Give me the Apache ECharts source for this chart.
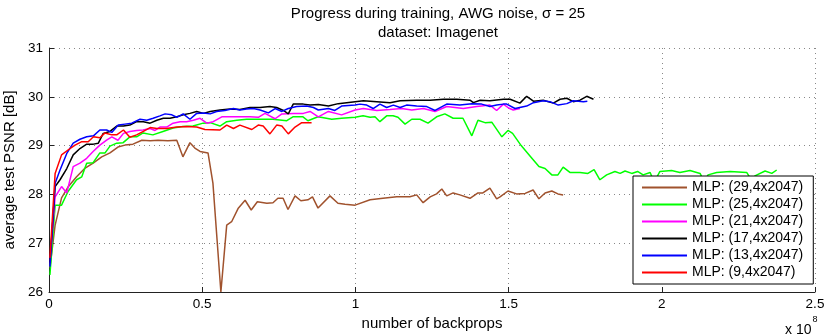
<!DOCTYPE html>
<html>
<head>
<meta charset="utf-8">
<script src="https://cdn.jsdelivr.net/npm/echarts@6/dist/echarts.min.js"></script>
<style>html,body{margin:0;padding:0;background:#fff;}#c{width:830px;height:335px;}</style>
</head>
<body>
<div id="c"></div>
<script>
// x in units of 1e8 backprops, y = average test PSNR [dB]
const seriesNames = ['MLP: (29,4x2047)','MLP: (25,4x2047)','MLP: (21,4x2047)','MLP: (17,4x2047)','MLP: (13,4x2047)','MLP: (9,4x2047)'];
const seriesColors = ['#A0522D','#00FF00','#FF00FF','#000000','#0000FF','#FF0000'];
const xTicks = [0, 0.5, 1, 1.5, 2, 2.5];
const yTicks = [26, 27, 28, 29, 30, 31];

const mlp29 = [[0.003,26.5],[0.020,27.37],[0.041,27.93],[0.062,28.15],[0.090,28.36],[0.118,28.54],[0.144,28.64],[0.172,28.77],[0.199,28.85],[0.225,28.97],[0.248,29.01],[0.274,29.03],[0.303,29.11],[0.330,29.10],[0.356,29.11],[0.388,29.10],[0.417,29.11],[0.437,28.77],[0.460,29.06],[0.476,28.95],[0.493,28.88],[0.519,28.85],[0.535,28.23],[0.547,27.20],[0.561,26.0],[0.580,27.37],[0.596,27.44],[0.617,27.71],[0.640,27.88],[0.660,27.68],[0.680,27.85],[0.711,27.82],[0.731,27.83],[0.747,27.92],[0.764,27.92],[0.780,27.69],[0.803,27.97],[0.822,27.87],[0.845,27.89],[0.860,27.95],[0.878,27.72],[0.917,27.97],[0.943,27.82],[0.966,27.80],[0.999,27.78],[1.004,27.82],[1.048,27.89],[1.090,27.92],[1.135,27.95],[1.178,27.95],[1.200,27.99],[1.221,27.83],[1.244,27.95],[1.265,28.01],[1.282,28.11],[1.298,27.97],[1.319,28.03],[1.341,27.99],[1.374,27.92],[1.400,28.03],[1.416,28.03],[1.439,28.13],[1.461,27.91],[1.472,27.95],[1.498,28.07],[1.526,28.01],[1.554,28.02],[1.580,28.09],[1.599,27.91],[1.619,28.03],[1.641,28.07],[1.661,28.01],[1.678,27.99]];

const mlp25 = [[0.003,26.35],[0.020,27.78],[0.041,27.78],[0.062,28.06],[0.090,28.30],[0.107,28.36],[0.123,28.64],[0.144,28.65],[0.166,28.85],[0.183,28.85],[0.199,28.99],[0.221,29.05],[0.242,29.06],[0.264,29.18],[0.286,29.18],[0.307,29.26],[0.339,29.22],[0.372,29.29],[0.405,29.36],[0.437,29.39],[0.470,29.40],[0.503,29.46],[0.526,29.47],[0.558,29.40],[0.580,29.49],[0.613,29.52],[0.645,29.54],[0.689,29.54],[0.731,29.54],[0.776,29.51],[0.796,29.59],[0.829,29.59],[0.845,29.51],[0.878,29.59],[0.923,29.54],[0.955,29.56],[0.999,29.58],[1.025,29.61],[1.048,29.58],[1.064,29.59],[1.080,29.49],[1.102,29.61],[1.123,29.61],[1.139,29.58],[1.162,29.44],[1.184,29.54],[1.211,29.54],[1.237,29.46],[1.265,29.59],[1.292,29.65],[1.319,29.56],[1.351,29.56],[1.380,29.20],[1.400,29.52],[1.423,29.47],[1.445,29.48],[1.478,29.18],[1.498,29.31],[1.513,29.25],[1.541,29.00],[1.576,28.74],[1.599,28.57],[1.619,28.53],[1.641,28.40],[1.661,28.40],[1.678,28.56],[1.700,28.45],[1.733,28.45],[1.759,28.43],[1.779,28.51],[1.798,28.30],[1.820,28.40],[1.847,28.47],[1.864,28.43],[1.880,28.48],[1.902,28.43],[1.921,28.47],[1.939,28.40],[1.962,28.45],[1.975,28.25],[1.994,28.47],[2.032,28.49],[2.059,28.45],[2.092,28.49],[2.125,28.43],[2.138,28.26],[2.151,28.40],[2.179,28.45],[2.223,28.47],[2.277,28.45],[2.294,28.28],[2.304,28.38],[2.337,28.48],[2.359,28.43],[2.375,28.50]];

const mlp21 = [[0.003,26.6],[0.020,27.95],[0.041,28.16],[0.058,28.03],[0.079,28.57],[0.101,28.64],[0.123,28.74],[0.144,28.88],[0.166,29.01],[0.188,29.11],[0.205,29.18],[0.225,29.11],[0.243,29.25],[0.264,29.29],[0.286,29.31],[0.307,29.32],[0.330,29.35],[0.346,29.31],[0.362,29.38],[0.384,29.38],[0.405,29.46],[0.428,29.49],[0.449,29.49],[0.471,29.52],[0.493,29.56],[0.515,29.46],[0.536,29.49],[0.564,29.59],[0.591,29.59],[0.623,29.59],[0.656,29.59],[0.683,29.58],[0.705,29.66],[0.738,29.55],[0.760,29.65],[0.797,29.66],[0.830,29.66],[0.852,29.70],[0.879,29.59],[0.912,29.70],[0.955,29.63],[0.999,29.73],[1.026,29.76],[1.070,29.72],[1.113,29.74],[1.151,29.76],[1.184,29.73],[1.222,29.76],[1.260,29.70],[1.298,29.80],[1.352,29.76],[1.396,29.80],[1.439,29.83],[1.461,29.72],[1.483,29.85],[1.500,29.77],[1.515,29.73],[1.537,29.76]];

const mlp17 = [[0.003,26.6],[0.020,28.16],[0.036,28.30],[0.058,28.53],[0.079,28.81],[0.101,28.94],[0.123,29.03],[0.145,29.03],[0.161,29.05],[0.177,29.25],[0.199,29.29],[0.221,29.40],[0.243,29.40],[0.264,29.42],[0.286,29.49],[0.308,29.49],[0.330,29.46],[0.352,29.52],[0.373,29.56],[0.395,29.56],[0.417,29.59],[0.438,29.63],[0.460,29.66],[0.482,29.70],[0.504,29.66],[0.526,29.70],[0.558,29.73],[0.591,29.75],[0.623,29.74],[0.656,29.78],[0.689,29.78],[0.721,29.80],[0.743,29.78],[0.765,29.72],[0.781,29.65],[0.797,29.85],[0.830,29.85],[0.852,29.83],[0.879,29.84],[0.912,29.81],[0.944,29.86],[0.999,29.90],[1.026,29.92],[1.070,29.90],[1.113,29.88],[1.146,29.92],[1.200,29.93],[1.244,29.93],[1.287,29.95],[1.331,29.95],[1.374,29.93],[1.385,29.88],[1.407,29.93],[1.439,29.92],[1.483,29.95],[1.505,29.95],[1.537,29.87],[1.559,30.01],[1.581,29.91],[1.613,29.93],[1.646,29.87],[1.668,29.95],[1.690,29.97],[1.711,29.90],[1.733,29.93],[1.755,30.01],[1.777,29.95]];

const mlp13 = [[0.003,26.52],[0.020,28.23],[0.036,28.50],[0.058,28.84],[0.079,29.05],[0.101,29.13],[0.123,29.18],[0.145,29.20],[0.166,29.32],[0.188,29.32],[0.205,29.27],[0.226,29.42],[0.248,29.44],[0.270,29.46],[0.297,29.54],[0.319,29.52],[0.340,29.56],[0.362,29.61],[0.379,29.65],[0.401,29.63],[0.417,29.58],[0.438,29.65],[0.460,29.54],[0.482,29.66],[0.504,29.67],[0.526,29.65],[0.547,29.70],[0.574,29.72],[0.602,29.76],[0.623,29.73],[0.645,29.75],[0.667,29.76],[0.689,29.73],[0.716,29.67],[0.738,29.76],[0.760,29.70],[0.781,29.76],[0.808,29.80],[0.841,29.81],[0.863,29.78],[0.879,29.73],[0.912,29.76],[0.933,29.72],[0.955,29.81],[0.999,29.83],[1.015,29.85],[1.037,29.83],[1.058,29.76],[1.080,29.85],[1.102,29.78],[1.124,29.83],[1.146,29.78],[1.167,29.83],[1.200,29.81],[1.233,29.80],[1.260,29.72],[1.298,29.85],[1.341,29.83],[1.380,29.86],[1.412,29.85],[1.439,29.80],[1.461,29.83],[1.483,29.85],[1.494,29.85],[1.521,29.76],[1.559,29.81],[1.581,29.88],[1.613,29.92],[1.635,29.90],[1.662,29.83],[1.690,29.86],[1.711,29.92],[1.744,29.90],[1.757,29.91]];

const mlp9 = [[0.003,26.7],[0.020,28.43],[0.041,28.81],[0.062,28.91],[0.085,29.01],[0.107,29.08],[0.128,29.08],[0.145,29.18],[0.166,29.16],[0.183,29.26],[0.205,29.22],[0.221,29.22],[0.243,29.32],[0.264,29.17],[0.286,29.22],[0.308,29.29],[0.330,29.37],[0.352,29.35],[0.384,29.35],[0.417,29.38],[0.449,29.39],[0.482,29.38],[0.509,29.33],[0.558,29.32],[0.580,29.42],[0.602,29.35],[0.623,29.42],[0.662,29.33],[0.683,29.42],[0.699,29.40],[0.721,29.24],[0.743,29.42],[0.760,29.40],[0.781,29.24],[0.803,29.38],[0.825,29.47],[0.857,29.47]];

const allData = [mlp29, mlp25, mlp21, mlp17, mlp13, mlp9];
const FONT = '"Liberation Sans", Arial, sans-serif';

const chart = echarts.init(document.getElementById('c'), null, {renderer: 'canvas'});
chart.setOption({
  animation: false,
  backgroundColor: '#fff',
  textStyle: {fontFamily: FONT},
  title: {
    text: 'Progress during training, AWG noise, σ = 25\ndataset: Imagenet',
    left: 433, top: -1, textAlign: 'center',
    textStyle: {fontSize: 15, fontWeight: 'normal', color: '#000', lineHeight: 19, fontFamily: FONT}
  },
  grid: {left: 49, right: 15, top: 48, bottom: 43, outerBoundsMode: 'none', containLabel: false},
  xAxis: {
    type: 'value', min: xTicks[0], max: xTicks[xTicks.length-1], interval: 0.5,
    name: 'number of backprops', nameLocation: 'middle', nameGap: 22,
    nameTextStyle: {fontSize: 15, color: '#000', fontFamily: FONT},
    axisLine: {show: true, onZero: false, lineStyle: {color: '#222', width: 1}},
    axisTick: {show: true, inside: true, length: 5, lineStyle: {color: '#222'}},
    axisLabel: {fontSize: 13.5, color: '#000', margin: 5, fontFamily: FONT},
    splitLine: {show: true, lineStyle: {color: '#888', type: [1, 4], width: 1}}
  },
  yAxis: {
    type: 'value', min: yTicks[0], max: yTicks[yTicks.length-1], interval: 1,
    name: 'average test PSNR [dB]', nameLocation: 'middle', nameGap: 26, nameRotate: 90,
    nameTextStyle: {fontSize: 15, color: '#000', fontFamily: FONT},
    axisLine: {show: true, lineStyle: {color: '#222', width: 1}},
    axisTick: {show: true, inside: true, length: 5, lineStyle: {color: '#222'}},
    axisLabel: {fontSize: 13.5, color: '#000', margin: 6, fontFamily: FONT},
    splitLine: {show: true, lineStyle: {color: '#888', type: [1, 4], width: 1}}
  },
  legend: {
    orient: 'vertical', left: 633, top: 176,
    backgroundColor: '#fff', borderColor: '#000', borderWidth: 1,
    padding: [4, 10, 4, 9],
    itemWidth: 45, itemHeight: 2, itemGap: 2, icon: 'rect',
    textStyle: {fontSize: 14, color: '#000', lineHeight: 15, fontFamily: FONT},
    data: seriesNames
  },
  graphic: [{
    type: 'text', left: 785, top: 315,
    style: {
      text: '{a|x 10}{b|8}',
      rich: {
        a: {fontSize: 14, fill: '#000', fontFamily: FONT, verticalAlign: 'bottom', padding: [8, 1, 0, 0]},
        b: {fontSize: 9, fill: '#000', fontFamily: FONT, verticalAlign: 'top', padding: [0, 0, 10, 0]}
      }
    }
  }],
  series: seriesNames.map((n, i) => ({
    name: n, type: 'line', data: allData[i], showSymbol: false, symbol: 'none',
    lineStyle: {color: seriesColors[i], width: 1.5}, itemStyle: {color: seriesColors[i]},
    clip: true
  }))
});
</script>
</body>
</html>
